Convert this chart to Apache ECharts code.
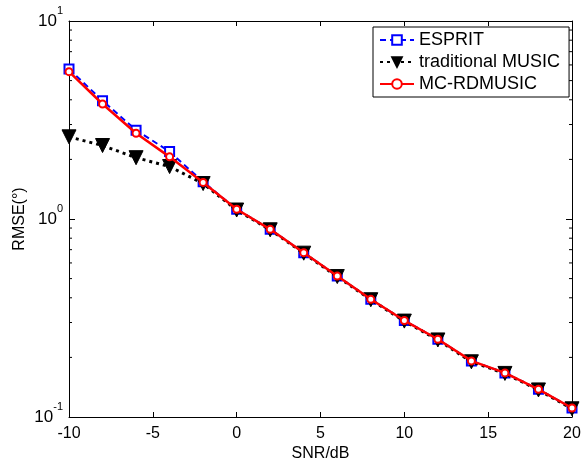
<!DOCTYPE html>
<html>
<head>
<meta charset="utf-8">
<script src="https://cdn.jsdelivr.net/npm/echarts@6/dist/echarts.min.js"></script>
<style>
  html, body { margin: 0; padding: 0; background: #fff; }
  #chart { width: 582px; height: 461px; }
</style>
</head>
<body>
<div id="chart"></div>
<script>
var snr = [-10, -8, -6, -4, -2, 0, 2, 4, 6, 8, 10, 12, 14, 16, 18, 20];
var esprit = [5.72, 3.96, 2.81, 2.19, 1.54, 1.12, 0.887, 0.676, 0.515, 0.393, 0.307, 0.247, 0.192, 0.167, 0.138, 0.111];
var tradMusic = [2.6, 2.35, 2.04, 1.84, 1.51, 1.11, 0.882, 0.672, 0.512, 0.391, 0.305, 0.245, 0.19, 0.166, 0.137, 0.11];
var mcRdmusic = [5.55, 3.81, 2.71, 2.06, 1.53, 1.12, 0.887, 0.676, 0.515, 0.393, 0.307, 0.247, 0.192, 0.167, 0.138, 0.111];

// log minor ticks 2..9 in each decade
var minorVals = [];
[0.1, 1].forEach(function (d) {
    for (var k = 2; k <= 9; k++) minorVals.push(+(d * k).toFixed(2));
});

var font = 'Liberation Sans, Arial, sans-serif';

function pairs(ys) {
    return snr.map(function (x, i) { return [x, ys[i]]; });
}

var chart = echarts.init(document.getElementById('chart'));

var xBase = {
    type: 'value',
    min: -10,
    max: 20,
    interval: 5,
    axisLine: { onZero: false, lineStyle: { color: '#000', width: 1 } },
    axisTick: { inside: true, length: 5, lineStyle: { color: '#000' } },
    splitLine: { show: false }
};
var yBase = {
    type: 'log',
    logBase: 10,
    min: 0.1,
    max: 10,
    axisLine: { show: true, onZero: false, lineStyle: { color: '#000', width: 1 } },
    axisTick: { inside: true, length: 6, lineStyle: { color: '#000' } },
    splitLine: { show: false }
};

chart.setOption({
    animation: false,
    backgroundColor: '#fff',
    textStyle: { fontFamily: font },
    grid: { left: 69, right: 10, top: 21, bottom: 44, containLabel: false, outerBoundsMode: 'none' },
    xAxis: [
        Object.assign({}, xBase, {
            position: 'bottom',
            name: 'SNR/dB',
            nameLocation: 'middle',
            nameGap: 29,
            nameMoveOverlap: false,
            nameTextStyle: { fontSize: 16, color: '#000', fontFamily: font },
            axisLabel: { fontSize: 16, color: '#000', margin: 9, fontFamily: font }
        }),
        Object.assign({}, xBase, {
            position: 'top',
            axisLabel: { show: false }
        })
    ],
    yAxis: [
        Object.assign({}, yBase, {
            position: 'left',
            name: 'RMSE(°)',
            nameLocation: 'middle',
            nameGap: 41,
            nameMoveOverlap: false,
            nameTextStyle: { fontSize: 16, color: '#000', fontFamily: font },
            axisLabel: {
                margin: 6,
                formatter: function (v) {
                    return '{b|10}{s|' + Math.round(Math.log10(v)) + '}';
                },
                rich: {
                    b: { fontSize: 17, color: '#000', fontFamily: font, lineHeight: 17 },
                    s: { fontSize: 11, color: '#000', fontFamily: font, lineHeight: 11, padding: [0, 0, 13, 0], verticalAlign: 'bottom' }
                }
            }
        }),
        Object.assign({}, yBase, {
            position: 'right',
            axisLabel: { show: false }
        })
    ],
    legend: {
        data: ['ESPRIT', 'traditional MUSIC', 'MC-RDMUSIC'],
        orient: 'vertical',
        left: 373,
        top: 27,
        padding: [4, 9, 4, 6],
        itemGap: 4,
        itemWidth: 34,
        itemHeight: 12,
        backgroundColor: '#fff',
        borderColor: '#000',
        borderWidth: 1,
        borderRadius: 0,
        textStyle: { fontSize: 18, color: '#000', fontFamily: font }
    },
    series: [
        {
            type: 'custom',
            silent: true,
            xAxisIndex: 0,
            yAxisIndex: 0,
            data: minorVals,
            clip: false,
            renderItem: function (params, api) {
                var v = api.value(0);
                var l = api.coord([-10, v]);
                var r = api.coord([20, v]);
                return {
                    type: 'group',
                    children: [
                        { type: 'line', shape: { x1: l[0], y1: l[1], x2: l[0] + 3, y2: l[1] }, style: { stroke: '#000', lineWidth: 1 } },
                        { type: 'line', shape: { x1: r[0], y1: r[1], x2: r[0] - 3, y2: r[1] }, style: { stroke: '#000', lineWidth: 1 } }
                    ]
                };
            },
            encode: { x: -1, y: 0 },
            z: 1
        },
        {
            name: 'ESPRIT',
            type: 'line',
            data: pairs(esprit),
            symbol: 'rect',
            symbolSize: 9,
            itemStyle: { color: '#fff', borderColor: '#0000ff', borderWidth: 2 },
            lineStyle: { color: '#0000ff', width: 2, type: [6, 4] },
            z: 2
        },
        {
            name: 'traditional MUSIC',
            type: 'line',
            data: pairs(tradMusic),
            symbol: 'triangle',
            symbolRotate: 180,
            symbolSize: 14,
            itemStyle: { color: '#000', borderColor: '#000', borderWidth: 1 },
            lineStyle: { color: '#000', width: 3, type: [3, 4] },
            z: 3
        },
        {
            name: 'MC-RDMUSIC',
            type: 'line',
            data: pairs(mcRdmusic),
            symbol: 'circle',
            symbolSize: 7,
            itemStyle: { color: '#fff', borderColor: '#ff0000', borderWidth: 2 },
            lineStyle: { color: '#ff0000', width: 2.5 },
            z: 4
        }
    ]
});
</script>
</body>
</html>
